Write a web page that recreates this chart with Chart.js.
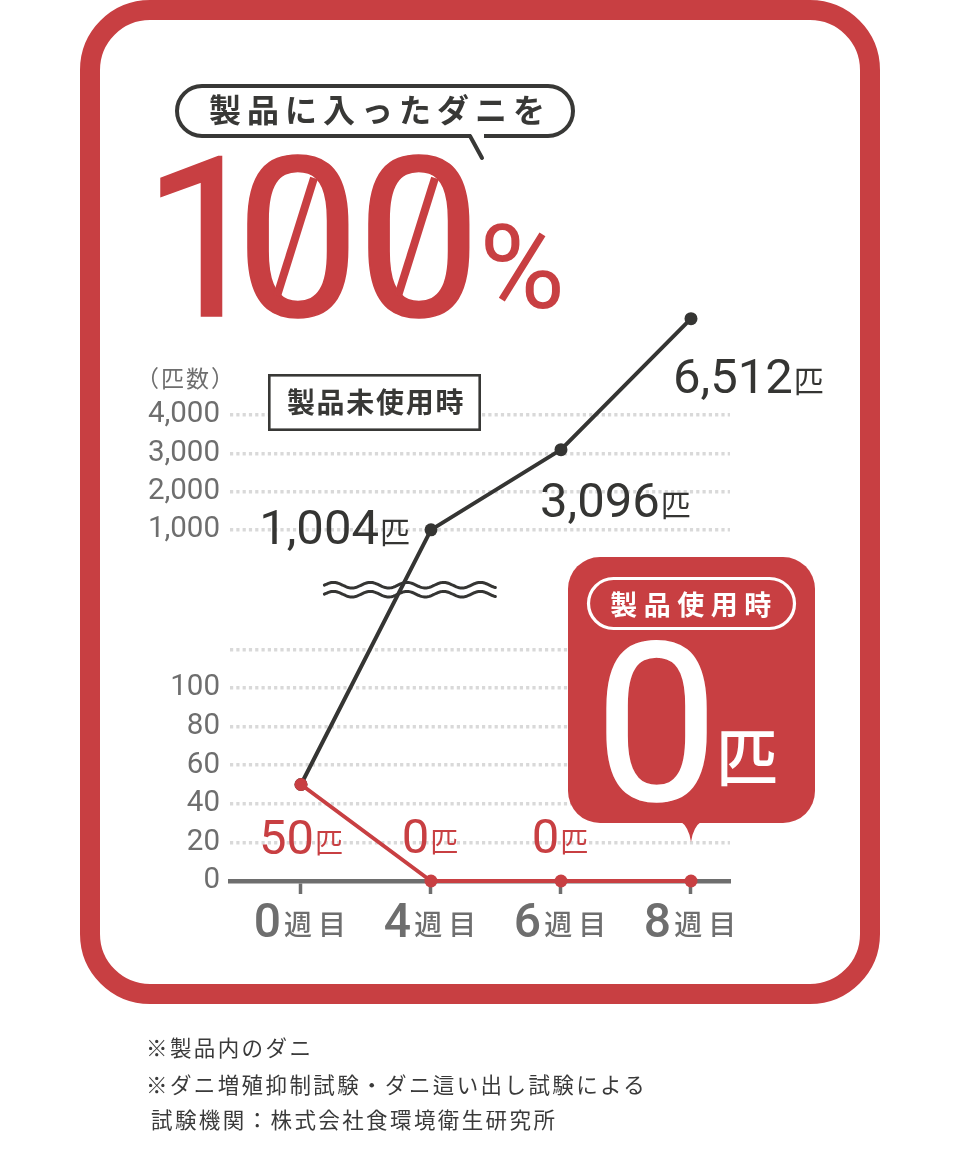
<!DOCTYPE html>
<html lang="ja">
<head>
<meta charset="utf-8">
<script src="https://cdn.jsdelivr.net/npm/chart.js@4.4.1/dist/chart.umd.min.js"></script>
<style>
html,body{margin:0;padding:0;background:#fff;}
#wrap{position:relative;width:960px;height:1154px;overflow:hidden;background:#fff;}
#c{position:absolute;left:0;top:0;width:960px;height:1154px;}
#deco{position:absolute;left:0;top:0;font-family:'Noto Sans CJK JP',sans-serif;}
</style>
</head>
<body>
<div id="wrap">
<canvas id="c" width="960" height="1154"></canvas>
<svg id="deco" width="960" height="1154" viewBox="0 0 960 1154" xmlns="http://www.w3.org/2000/svg">
  <!-- frame -->
  <rect x="90" y="10" width="780" height="984" rx="60" fill="none" stroke="#c83f42" stroke-width="20"/>
  <!-- title bubble -->
  <rect x="177" y="86" width="396" height="50" rx="25" fill="#fff" stroke="#383836" stroke-width="4"/>
  <rect x="471" y="131" width="13" height="9" fill="#fff"/>
  <line x1="470" y1="136" x2="482" y2="158" stroke="#383836" stroke-width="4" stroke-linecap="round"/>
  <text x="380" y="122" text-anchor="middle" font-size="32" font-weight="700" letter-spacing="6" fill="#383836">製品に入ったダニを</text>
  <!-- 100% -->
  <text fill="#c83f42" font-family="Roboto" font-weight="400" font-size="222" text-anchor="middle" stroke="#c83f42" stroke-width="1.5"><tspan x="205 298 419" y="316">100</tspan><tspan x="522" y="308" font-size="117" stroke-width="0">%</tspan></text>
  <line x1="277" y1="296" x2="314" y2="178" stroke="#c83f42" stroke-width="8"/>
  <line x1="398" y1="296" x2="435" y2="178" stroke="#c83f42" stroke-width="8"/>
  <!-- unit caption -->
  <text x="136" y="387" font-size="23" letter-spacing="2" fill="#6e6e6e">（匹数）</text>
  <!-- untreated box -->
  <rect x="269.3" y="375.3" width="210.4" height="54.4" fill="#fff" stroke="#383836" stroke-width="2.6"/>
  <text x="376" y="412.5" text-anchor="middle" font-size="28" font-weight="700" letter-spacing="1.7" fill="#383836">製品未使用時</text>
  <!-- treated callout -->
  <rect x="568" y="557" width="247" height="266" rx="32" fill="#c83f42"/>
  <path d="M680 821 Q689 827 691 842 Q693 827 702 821 Z" fill="#c83f42"/>
  <rect x="588.5" y="578.5" width="206" height="50" rx="25" fill="none" stroke="#fff" stroke-width="3.2"/>
  <text x="694" y="615" text-anchor="middle" font-size="27" font-weight="700" letter-spacing="6.5" fill="#fff">製品使用時</text>
  <text x="656.5" y="800" text-anchor="middle" font-family="Roboto" font-weight="400" font-size="220" fill="#fff" stroke="#fff" stroke-width="1.5">0</text>
  <text x="716" y="781" font-size="62" font-weight="500" fill="#fff">匹</text>
  <!-- footnotes -->
  <g font-size="21.5" letter-spacing="2.4" fill="#3a3a3a">
    <text x="146" y="1056">※製品内のダニ</text>
    <text x="146" y="1093">※ダニ増殖抑制試験・ダニ這い出し試験による</text>
    <text x="151" y="1128">試験機関：株式会社食環境衛生研究所</text>
  </g>
</svg>
</div>
<script>
// ---- data ----
const categories = ['0週目', '4週目', '6週目', '8週目'];
const untreatedValues = [50, 1004, 3096, 6512];   // 製品未使用時
const treatedValues = [50, 0, 0, 0];              // 製品使用時
const yTickValues = [0, 20, 40, 60, 80, 100, 120, 1000, 2000, 3000, 4000];
const yTickLabels = ['0', '20', '40', '60', '80', '100', '', '1,000', '2,000', '3,000', '4,000'];
const unitLabel = '匹';

// ---- styles ----
const RED = '#c83f42';
const DARK = '#353533';
const GRAY = '#6e6e6e';
const GRID = '#d9d9d9';
const JP = "'Noto Sans CJK JP', sans-serif";

// ---- broken (two-segment) y scale ----
const LOW_MAX = 120, HIGH_MIN = 1000, HIGH_START_U = 181.87, HIGH_RATE = 0.019862;
function toU(v) {
  if (v <= LOW_MAX) return v;
  if (v >= HIGH_MIN) return HIGH_START_U + (v - HIGH_MIN) * HIGH_RATE;
  return LOW_MAX + (v - LOW_MAX) / (HIGH_MIN - LOW_MAX) * (HIGH_START_U - LOW_MAX);
}
function fromU(u) {
  if (u <= LOW_MAX) return u;
  if (u >= HIGH_START_U) return HIGH_MIN + (u - HIGH_START_U) / HIGH_RATE;
  return LOW_MAX + (u - LOW_MAX) / (HIGH_START_U - LOW_MAX) * (HIGH_MIN - LOW_MAX);
}
class BrokenScale extends Chart.LinearScale {
  getPixelForValue(value) {
    if (value === null || value === undefined || isNaN(value)) return NaN;
    const a = toU(this.min), b = toU(this.max);
    return this.getPixelForDecimal((toU(value) - a) / (b - a));
  }
  getValueForPixel(pixel) {
    const a = toU(this.min), b = toU(this.max);
    return fromU(a + this.getDecimalForPixel(pixel) * (b - a));
  }
}
BrokenScale.id = 'brokenLinear';
BrokenScale.defaults = Chart.LinearScale.defaults;
Chart.register(BrokenScale);

// label placement (layout only)
const untreatedLabelPos = [null, {align: 'right', dx: -21, dy: 14}, {align: 'left', dx: -21, dy: 67}, {align: 'left', dx: -18, dy: 74}];
const treatedLabelPos = [{align: 'center', dx: 0, dy: 69}, {align: 'center', dx: -1, dy: -28}, {align: 'center', dx: -1, dy: -28}, null];

function drawMixed(ctx, num, rest, x, baseline, o) {
  ctx.font = o.numFont;
  const wn = ctx.measureText(num).width;
  ctx.font = o.restFont;
  const chars = Array.from(rest);
  const cw = chars.map(ch => ctx.measureText(ch).width);
  const wr = cw.reduce((s, w) => s + w, 0) + (chars.length - 1) * (o.ls || 0);
  const total = wn + o.gap + wr;
  let x0 = x;
  if (o.align === 'center') x0 = x - total / 2;
  else if (o.align === 'right') x0 = x - total;
  ctx.fillStyle = o.color;
  ctx.textBaseline = 'alphabetic';
  ctx.textAlign = 'left';
  ctx.font = o.numFont;
  ctx.fillText(num, x0, baseline);
  ctx.font = o.restFont;
  let cx = x0 + wn + o.gap;
  chars.forEach((ch, i) => { ctx.fillText(ch, cx, baseline + (o.restDy || 0)); cx += cw[i] + (o.ls || 0); });
}

const decoPlugin = {
  id: 'deco',
  beforeDatasetsDraw(chart) {
    const {ctx, scales: {x, y}} = chart;
    const yMid = (y.getPixelForValue(LOW_MAX) + y.getPixelForValue(HIGH_MIN)) / 2;
    const xa = x.getPixelForValue(0.18), xb = x.getPixelForValue(1.5);
    ctx.save();
    ctx.strokeStyle = DARK;
    ctx.lineWidth = 3;
    ctx.lineCap = 'round';
    [-4.5, 4.5].forEach(off => {
      ctx.beginPath();
      for (let px = xa; px <= xb; px += 1) {
        const yy = yMid + off - 2.8 * Math.sin((px - xa) / 36.7 * 2 * Math.PI);
        if (px === xa) ctx.moveTo(px, yy); else ctx.lineTo(px, yy);
      }
      ctx.stroke();
    });
    ctx.restore();
  },
  afterDatasetsDraw(chart) {
    const {ctx, scales: {x, y}} = chart;
    ctx.save();
    // x-axis category labels
    categories.forEach((c, i) => {
      const m = c.match(/^(\d+)(.*)$/);
      drawMixed(ctx, m[1], m[2], x.getPixelForValue(i) - 1, 937, {
        align: 'center', numFont: "500 48px Roboto", restFont: "500 28px " + JP,
        gap: 3, ls: 6, color: GRAY, restDy: -2
      });
    });
    // data labels
    const fmt = v => v.toLocaleString('en-US');
    untreatedValues.forEach((v, i) => {
      const p = untreatedLabelPos[i];
      if (!p) return;
      const px = x.getPixelForValue(i), py = y.getPixelForValue(v);
      drawMixed(ctx, fmt(v), unitLabel, px + p.dx, py + p.dy, {
        align: p.align, numFont: "400 49px Roboto", restFont: "400 30px " + JP,
        gap: 1, color: DARK, restDy: -1
      });
    });
    treatedValues.forEach((v, i) => {
      const p = treatedLabelPos[i];
      if (!p) return;
      const px = x.getPixelForValue(i), py = y.getPixelForValue(v);
      drawMixed(ctx, fmt(v), unitLabel, px + p.dx, py + p.dy, {
        align: p.align, numFont: "400 49px Roboto", restFont: "400 28px " + JP,
        gap: 1, color: RED, restDy: -1
      });
    });
    ctx.restore();
  }
};

new Chart(document.getElementById('c'), {
  type: 'line',
  data: {
    datasets: [
      {
        label: '製品使用時',
        data: treatedValues.map((v, i) => ({x: i, y: v})),
        borderColor: RED, backgroundColor: RED, borderWidth: 4,
        pointRadius: 6.5, pointHoverRadius: 6.5, pointBorderWidth: 0, pointBackgroundColor: RED,
        borderJoinStyle: 'round', borderCapStyle: 'round', tension: 0, clip: false
      },
      {
        label: '製品未使用時',
        data: untreatedValues.map((v, i) => ({x: i, y: v})),
        borderColor: DARK, backgroundColor: DARK, borderWidth: 4,
        pointRadius: 6.5, pointHoverRadius: 6.5, pointBorderWidth: 0, pointBackgroundColor: DARK,
        borderJoinStyle: 'round', borderCapStyle: 'round', tension: 0, clip: false
      }
    ]
  },
  options: {
    responsive: false,
    animation: false,
    layout: {padding: {top: 300, right: 230, left: 0, bottom: 0}},
    plugins: {legend: {display: false}, tooltip: {enabled: false}},
    events: [],
    scales: {
      x: {
        type: 'linear', min: -0.546, max: 3.3,
        afterBuildTicks: s => { s.ticks = categories.map((c, i) => ({value: i})); },
        afterFit: s => { s.height = 273; },
        ticks: {display: false},
        grid: {drawOnChartArea: false, drawTicks: true, tickLength: 13, tickWidth: 3.5, tickColor: GRAY},
        border: {display: true, color: GRAY, width: 4.5}
      },
      y: {
        type: 'brokenLinear', min: 0, max: 7000,
        afterBuildTicks: s => { s.ticks = yTickValues.map(v => ({value: v})); },
        afterFit: s => { s.width = 230; },
        ticks: {
          autoSkip: false, padding: 10, color: GRAY,
          font: {family: 'Roboto', size: 29.5, weight: '400'},
          callback: (v, i) => yTickLabels[i]
        },
        grid: {
          drawTicks: false, lineWidth: 3.5,
          color: c => (c.tick && c.tick.value === 0) ? 'rgba(0,0,0,0)' : GRID
        },
        border: {display: false, dash: [3.2, 3.1]}
      }
    }
  },
  plugins: [decoPlugin]
});
</script>
</body>
</html>
